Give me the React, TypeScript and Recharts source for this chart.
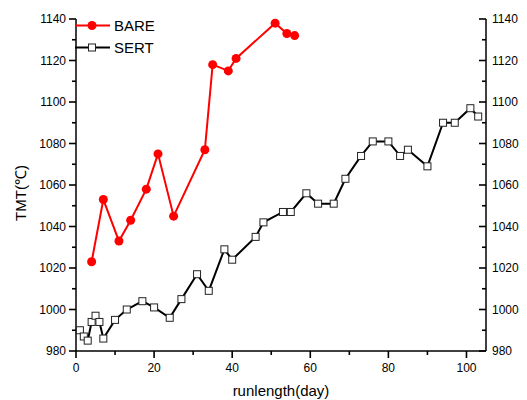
import React from 'react';
import { LineChart, Line, XAxis, YAxis, Legend } from 'recharts';

const bareDays = [4, 7, 11, 14, 18, 21, 25, 33, 35, 39, 41, 51, 54, 56];
const bareTmt = [1023, 1053, 1033, 1043, 1058, 1075, 1045, 1077, 1118, 1115, 1121, 1138, 1133, 1132];

const sertDays = [1, 2, 3, 4, 5, 6, 7, 10, 13, 17, 20, 24, 27, 31, 34, 38, 40, 46, 48, 53, 55, 59, 62, 66, 69, 73, 76, 80, 83, 85, 90, 94, 97, 101, 103];
const sertTmt = [990, 987, 985, 994, 997, 994, 986, 995, 1000, 1004, 1001, 996, 1005, 1017, 1009, 1029, 1024, 1035, 1042, 1047, 1047, 1056, 1051, 1051, 1063, 1074, 1081, 1081, 1074, 1077, 1069, 1090, 1090, 1097, 1093];

const xTicks = [0, 10, 20, 30, 40, 50, 60, 70, 80, 90, 100];
const yTicks = [980, 990, 1000, 1010, 1020, 1030, 1040, 1050, 1060, 1070, 1080, 1090, 1100, 1110, 1120, 1130, 1140];

const bareData = bareDays.map((d, i) => ({ day: d, tmt: bareTmt[i] }));
const sertData = sertDays.map((d, i) => ({ day: d, tmt: sertTmt[i] }));

const FONT = '"Liberation Sans", Arial, sans-serif';

const LeftTick = (props: any) => {
  const x = Number(props.x);
  const y = Number(props.y);
  const v = Number(props.payload && props.payload.value);
  const major = v % 20 === 0;
  const len = major ? 7 : 4;
  return (
    <g>
      <path d={`M${x},${y}H${x - len}`} stroke="#000000" strokeWidth={1.6} fill="none" />
      {major ? (
        <text x={x - 10} y={y + 4} textAnchor="end" fontSize={12} fontFamily={FONT} fill="#000">
          {v}
        </text>
      ) : null}
    </g>
  );
};

const RightTick = (props: any) => {
  const x = Number(props.x);
  const y = Number(props.y);
  const v = Number(props.payload && props.payload.value);
  const major = v % 20 === 0;
  const len = major ? 7 : 4;
  return (
    <g>
      <path d={`M${x},${y}H${x - len}`} stroke="#000000" strokeWidth={1.6} fill="none" />
      {major ? (
        <text x={x + 6} y={y + 4} textAnchor="start" fontSize={12} fontFamily={FONT} fill="#000">
          {v}
        </text>
      ) : null}
    </g>
  );
};

const BottomTick = (props: any) => {
  const x = Number(props.x);
  const y = Number(props.y);
  const v = Number(props.payload && props.payload.value);
  const major = v % 20 === 0;
  const len = major ? 7 : 4;
  return (
    <g>
      <path d={`M${x},${y}V${y + len}`} stroke="#000000" strokeWidth={1.6} fill="none" />
      {major ? (
        <text x={x} y={y + 21} textAnchor="middle" fontSize={12} fontFamily={FONT} fill="#000">
          {v}
        </text>
      ) : null}
    </g>
  );
};

const SquareDot = (props: any) => {
  const { cx, cy } = props;
  if (cx == null || cy == null) return null;
  return <rect x={cx - 3.5} y={cy - 3.5} width={7} height={7} fill="#fff" stroke="#222" strokeWidth={1} />;
};

const LegendContent = () => (
  <svg width={200} height={60} style={{ display: 'block' }}>
    <line x1={75} x2={110} y1={25.5} y2={25.5} stroke="#ff0000" strokeWidth={2} />
    <circle cx={92} cy={25.5} r={4.5} fill="#ff0000" />
    <text x={114} y={31} fontSize={15} fontFamily={FONT} fill="#000">BARE</text>
    <line x1={75} x2={110} y1={47.5} y2={47.5} stroke="#000" strokeWidth={2} />
    <rect x={88.5} y={44} width={7} height={7} fill="#fff" stroke="#222" strokeWidth={1} />
    <text x={114} y={53} fontSize={15} fontFamily={FONT} fill="#000">SERT</text>
  </svg>
);

export default function App() {
  return (
    <div style={{ position: 'absolute', left: 0, top: 0, width: 527, height: 400, background: '#fff' }}>
      <LineChart width={527} height={400} margin={{ top: 19, right: 0, bottom: 0, left: 0 }}>
        <XAxis
          dataKey="day"
          type="number"
          domain={[0, 105]}
          ticks={xTicks}
          interval={0}
          height={49}
          allowDuplicatedCategory={false}
          tickLine={false}
          tickSize={0}
          tickMargin={0}
          tick={<BottomTick />}
          axisLine={{ stroke: '#000', strokeWidth: 1.5 }}
          label={{ value: 'runlength(day)', position: 'insideBottom', offset: 4, fontSize: 15, fontFamily: FONT, fill: '#000' }}
        />
        <YAxis
          yAxisId="left"
          orientation="left"
          type="number"
          domain={[980, 1140]}
          ticks={yTicks}
          interval={0}
          width={76}
          tickLine={false}
          tickSize={0}
          tickMargin={0}
          tick={<LeftTick />}
          axisLine={{ stroke: '#000', strokeWidth: 1.5 }}
          label={{ value: 'TMT(℃)', angle: -90, position: 'insideLeft', offset: 21, dy: 8, fontSize: 15, fontFamily: FONT, fill: '#000', style: { textAnchor: 'middle' } }}
        />
        <YAxis
          yAxisId="right"
          orientation="right"
          type="number"
          domain={[980, 1140]}
          ticks={yTicks}
          interval={0}
          width={41}
          tickLine={false}
          tickSize={0}
          tickMargin={0}
          tick={<RightTick />}
          axisLine={{ stroke: '#000', strokeWidth: 1.5 }}
        />
        <Legend
          layout="vertical"
          align="center"
          verticalAlign="middle"
          content={() => <LegendContent />}
          wrapperStyle={{ left: 0, top: 0, width: 200, height: 60 }}
        />
        <Line
          yAxisId="left"
          data={bareData}
          dataKey="tmt"
          name="BARE"
          stroke="#ff0000"
          strokeWidth={2}
          dot={{ r: 4.5, fill: '#ff0000', stroke: '#ff0000', strokeWidth: 0 }}
          isAnimationActive={false}
        />
        <Line
          yAxisId="right"
          data={sertData}
          dataKey="tmt"
          name="SERT"
          stroke="#000"
          strokeWidth={2}
          dot={<SquareDot />}
          isAnimationActive={false}
        />
      </LineChart>
    </div>
  );
}
